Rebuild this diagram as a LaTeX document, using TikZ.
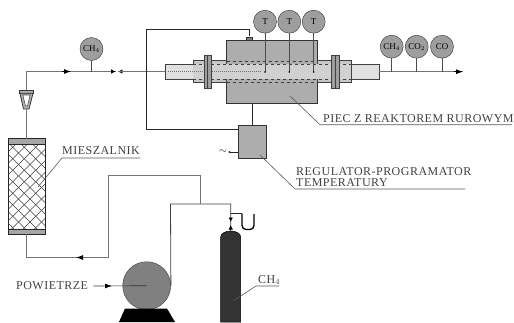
\documentclass[tikz,border=0pt]{standalone}
\usepackage{fontspec}
\setmainfont{Liberation Serif}
\newfontfamily\labelfont[LetterSpace=4]{Liberation Serif}
\usetikzlibrary{arrows.meta}
\begin{document}
\begin{tikzpicture}[
        x=1pt,
        y=-1pt,
        box/.style={
            rectangle,
            draw=black!80,
            fill=black!32,
            inner sep=0pt,
            line width=0.9pt
        },
        gauge/.style={
            circle,
            draw=black!80,
            fill=black!38,
            minimum size=23pt,
            inner sep=0pt,
            font=\fontsize{9}{9}\selectfont
        },
        tube/.style={draw=black!75, line width=0.7pt},
        pipe/.style={draw=black!55, line width=1pt},
        wire/.style={draw=black!85, line width=0.6pt},
        arrow/.style={-{Latex[length=7pt,width=5pt]}, black, line width=0.8pt},
        smallarrow/.style={-{Latex[length=4.5pt,width=4.5pt]}, black, line width=0.8pt},
        label/.style={
            anchor=west,
            inner sep=0pt,
            text=black!75,
            font=\labelfont\fontsize{12}{10.5}\selectfont,
            align=left
        },
        leader/.style={draw=black!65, line width=0.6pt}
    ]

        \useasboundingbox (0,0) rectangle (514,322);

        \node[box] (piec) at (272,72) [minimum width=90.5pt, minimum height=62.5pt] {};
        \node[box] (regulator) at (252.5,142) [minimum width=27.5pt, minimum height=33.5pt] {};

        % reactor tube
        \fill[black!12, tube] (165,64) rectangle (193,79.3);
        \fill[black!22, tube] (193,60.5) rectangle (226.7,82.5);
        \fill[black!22, tube] (317.3,60.5) rectangle (351,82.5);
        \fill[black!12, tube] (351,64.3) rectangle (379,79.3);
        \fill[black!18] (193,64.3) rectangle (351,79);
        \draw[tube, dashed] (193,64.3) -- (351,64.3);
        \draw[tube, dashed] (193,79) -- (351,79);
        \draw[tube, dashed] (226.7,61) -- (317.3,61);
        \draw[tube, dashed] (226.7,82) -- (317.3,82);
        \draw[black!55, line width=1pt, densely dotted] (168,71.5) -- (262,71.5);
        \foreach \xf in {204,331.7} {
            \fill[black!38, tube] (\xf,55) rectangle (\xf+7.5,88.3);
            \draw[tube] (\xf+3.7,55) -- (\xf+3.7,88.3);
        }

        % gauges
        \node[gauge] (ch4in) at (91.5,49) {CH$_4$};
        \node[gauge] (t1) at (265,21.7) {T};
        \node[gauge] (t2) at (289.3,21.7) {T};
        \node[gauge] (t3) at (313.7,21.7) {T};
        \node[gauge] (ch4out) at (391.7,46.7) {CH$_4$};
        \node[gauge] (co2) at (416.7,46.7) {CO$_2$};
        \node[gauge] (co) at (442,46.7) {CO};

        \coordinate (t1end) at (265,72);
        \coordinate (t2end) at (289.3,72);
        \coordinate (t3end) at (313.7,72);
        \foreach \n in {1,2,3} {
            \draw[black!70, line width=0.8pt] (t\n.south) -- (t\n end);
            \fill (t\n end) circle (0.9pt);
        }

        % inlet
        \node[draw=black!80, fill=black!30, line width=0.8pt, inner sep=0pt, minimum width=14pt, minimum height=3.3pt] (rotatop) at (26.5,91.7) {};
        \draw[black!80, fill=black!30, line width=0.8pt] (20,93.3) -- (33,93.3) -- (29,109) -- (23.5,109) -- cycle;
        \draw[black!70, fill=white, line width=0.6pt] (22.8,95) -- (30.2,95) -- (27.5,106) -- (25.5,106) -- cycle;
        \coordinate (rotabot) at (26.5,109);
        \coordinate (corner) at (26.5,71.5);
        \coordinate (arrowa) at (71,71.5);
        \coordinate (stema) at (91.5,71.5);
        \coordinate (valvea) at (115.7,71.5);
        \coordinate (valveb) at (117.9,71.5);
        \coordinate (tubein) at (165,71.5);
        \draw[pipe] (rotatop.north) -- (corner) -- (arrowa);
        \draw[arrow] (62,71.5) -- (arrowa);
        \draw[pipe] (arrowa) -- (valvea);
        \draw[smallarrow] (110.7,71.5) -- (valvea);
        \draw[smallarrow] (123.3,71.5) -- (valveb);
        \draw[pipe] (valveb) -- (tubein);
        \draw[black!70, line width=0.7pt] (ch4in.south) -- (stema);

        % outlet
        \coordinate (tubeout) at (379,71.7);
        \coordinate (outend) at (463,71.7);
        \draw[pipe] (tubeout) -- (outend);
        \draw[arrow] (454,71.7) -- (outend);
        \foreach \g in {ch4out,co2,co} {
            \draw[black!70, line width=0.7pt] (\g.south) -- (\g |- tubeout);
        }

        % mixer
        \node[rectangle, inner sep=0pt, minimum width=36.5pt, minimum height=95pt] (mieszalnik) at (26.5,186.5) {};
        \begin{scope}
            \clip (mieszalnik.north west) rectangle (mieszalnik.south east);
            \foreach \d in {100,111.5,...,300} {
                \draw[black!75, line width=0.5pt] (0,\d) -- (60,\d+60);
                \draw[black!75, line width=0.5pt] (60,\d) -- (0,\d+60);
            }
        \end{scope}
        \fill[black!35] (mieszalnik.north west) rectangle (45,144.5);
        \fill[black!35] (8.2,229.5) rectangle (mieszalnik.south east);
        \draw[black!85, line width=0.9pt] (mieszalnik.north west) rectangle (mieszalnik.south east);
        \draw[black!85, line width=0.6pt] (8.2,144.5) -- (45,144.5);
        \draw[black!85, line width=0.6pt] (8.2,229.5) -- (45,229.5);
        \draw[pipe] (rotabot) -- (mieszalnik.north);

        % pump and cylinder
        \node[circle, draw=black!75, fill=black!50, minimum size=48pt, inner sep=0pt] (pompa) at (146.7,285.7) {};
        \fill[black] (125,308.5) -- (167,308.5) -- (175,322) -- (119,322) -- cycle;
        \draw[black, fill=black!80, line width=0.5pt] (220.7,322) -- (220.7,237) arc[start angle=180, end angle=360, x radius=10, y radius=6] -- (240.7,322) -- cycle;
        \coordinate (butla) at (230.7,231);
        \coordinate (tee) at (200.7,204);
        \coordinate (split) at (230.7,204);
        \coordinate (pumpout) at (170.5,204);
        \coordinate (arrowb) at (76,257.5);
        \coordinate (mixbot) at (26.5,257.5);
        \coordinate (back) at (108,257.5);
        \coordinate (up) at (108,175);
        \coordinate (over) at (200.7,175);
        \draw[black!75, line width=0.8pt] (pompa.east) -- (pumpout) -- (split) -- (butla);
        \draw[pipe] (tee) -- (over) -- (up) -- (back) -- (arrowb);
        \draw[pipe] (arrowb) -- (mixbot) -- (mieszalnik.south);
        \draw[arrow] (82,257.5) -- (arrowb);
        \draw[smallarrow] (230.7,217.5) -- (230.7,222);
        \draw[smallarrow] (230.7,229.5) -- (230.7,225);
        % manometer
        \coordinate (manoin) at (242,213.5);
        \draw[wire] (230.7,213.5) -- (manoin);
        \draw[black, line width=1.3pt, rounded corners=4pt] (manoin) -- (242,229.5) -- (254,229.5) -- (254,214);

        % air line
        \node[label] (powietrze) at (16,286) {POWIETRZE};
        \coordinate (arrowc) at (112,286);
        \draw[black!80, line width=0.6pt] (93.5,286) -- (pompa.center);
        \draw[arrow] (105,286) -- (arrowc);

        % controller wiring
        \coordinate (wirea) at (146,29);
        \coordinate (wireb) at (249.3,29);
        \coordinate (wirec) at (146,129);
        \draw[wire] (wireb |- piec.north) ++(0,-4) -- (wireb) -- (wirea) -- (wirec) -- (regulator.west |- wirec);
        \draw[wire] (piec.south -| regulator) -- (regulator.north);
        \node[draw=black!80, fill=black!50, inner sep=0pt, minimum width=6pt, minimum height=3.5pt] (czujnik) at (249.3,38.5) {};
        \node[inner sep=0pt] (zasilanie) at (223,152) {$\sim$};
        \draw[wire, {Stealth[length=2.5pt,width=2.5pt]}-] (zasilanie.east) ++(1,0) -- (regulator.west |- zasilanie);

        % labels
        \node[label] (mieszalniklab) at (62,150.5) {MIESZALNIK};
        \draw[leader] (38,187) -- (62,158) -- (140,158);
        \node[label] (pieclab) at (323,119) {PIEC Z REAKTOREM RUROWYM};
        \draw[leader] (290,96) -- (320,124.7) -- (512,124.7);
        \node[label] (reglab) at (296,177) {REGULATOR-PROGRAMATOR\\TEMPERATURY};
        \draw[leader] (260,155) -- (295,189) -- (465,189);
        \node[label] (ch4lab) at (258,280) {CH$_4$};
        \draw[leader] (233,301) -- (256,286) -- (279,286);

    \end{tikzpicture}
\end{document}
